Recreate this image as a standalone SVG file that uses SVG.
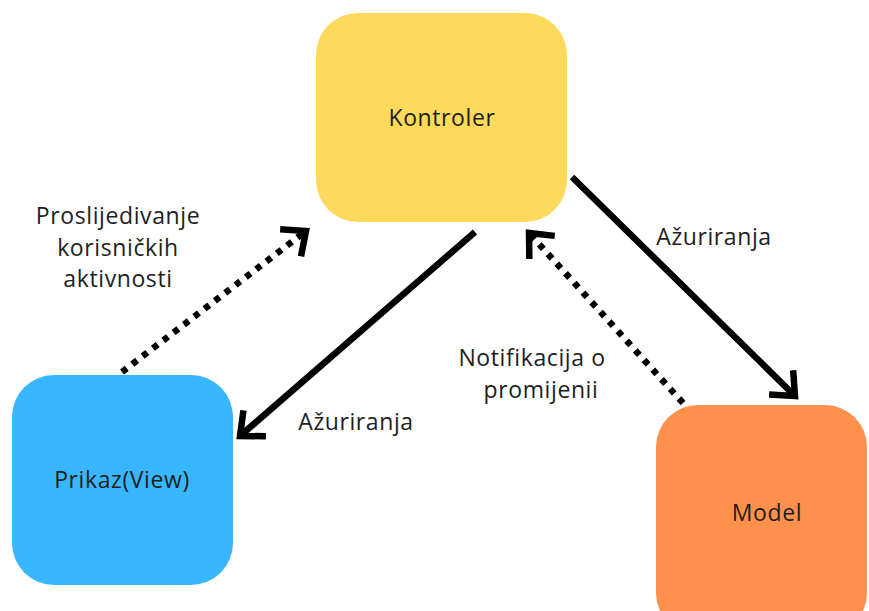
<svg xmlns="http://www.w3.org/2000/svg" width="869" height="611" viewBox="0 0 869 611">
<style>
.lbl{font-family:"Open Sans","Noto Sans","Liberation Sans",sans-serif;font-size:23px;letter-spacing:0.6px;fill:#1e1e1e;text-anchor:middle}
.conn{fill:none;stroke:#000;stroke-width:6.5}
.dot{stroke-dasharray:6 7}
</style>
<defs>
<marker id="ah" markerUnits="userSpaceOnUse" viewBox="-25 -20 30 40" refX="0" refY="0" markerWidth="30" markerHeight="40" orient="auto">
<path d="M-17,-15 L0,0 L-17,15" fill="none" stroke="#000" stroke-width="6.5" stroke-linejoin="miter" stroke-linecap="square"/>
</marker>
</defs>
<rect width="869" height="611" fill="#fff"/>
<g id="kontroler">
<rect x="316" y="13" width="251" height="209" rx="42" fill="#FDD95C"/>
<text class="lbl" x="442" y="126">Kontroler</text>
</g>
<g id="prikaz">
<rect x="12" y="375" width="221" height="210" rx="42" fill="#38B6FF"/>
<text class="lbl" x="122" y="488">Prikaz(View)</text>
</g>
<g id="model">
<rect x="656" y="405" width="211" height="230" rx="42" fill="#FF914D"/>
<text class="lbl" x="767" y="521">Model</text>
</g>
<g id="connectors">
<path class="conn dot" d="M122,372 L306,231" marker-end="url(#ah)"/>
<path class="conn" d="M475,232 L240,436" marker-end="url(#ah)"/>
<path class="conn" d="M572,177 L795,396" marker-end="url(#ah)"/>
<path class="conn dot" d="M683,403 L529,233" marker-end="url(#ah)"/>
</g>
<g id="labels">
<text class="lbl" x="118" y="224">Proslijedivanje</text>
<text class="lbl" x="118" y="256">korisničkih</text>
<text class="lbl" x="118" y="287">aktivnosti</text>
<text class="lbl" x="714" y="245">Ažuriranja</text>
<text class="lbl" x="356" y="430">Ažuriranja</text>
<text class="lbl" x="532" y="366">Notifikacija o</text>
<text class="lbl" x="541" y="398">promijenii</text>
</g>
</svg>
